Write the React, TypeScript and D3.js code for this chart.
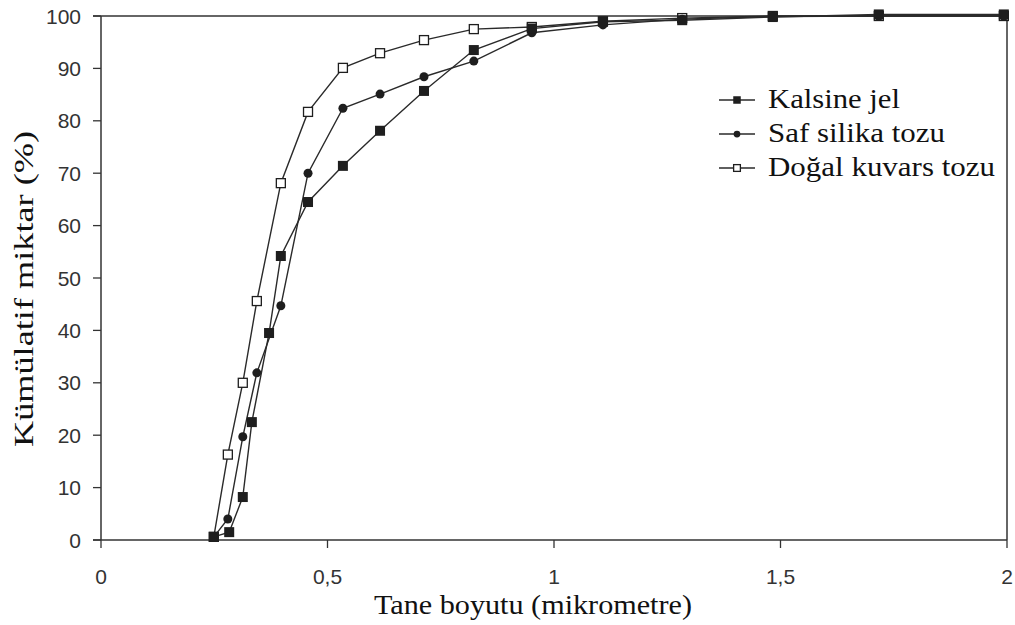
import React from "react";
import * as d3 from "d3";

// particle size (micrometre) and cumulative amount (%)
const kalsineX = [0.249, 0.283, 0.313, 0.333, 0.371, 0.397, 0.457, 0.534, 0.616, 0.713, 0.823, 0.951, 1.108, 1.283, 1.483, 1.717, 1.993];
const kalsineY = [0.6, 1.5, 8.2, 22.5, 39.5, 54.2, 64.5, 71.4, 78.1, 85.7, 93.5, 97.6, 98.9, 99.2, 99.8, 100.3, 100.3];

const safX = [0.249, 0.28, 0.313, 0.344, 0.397, 0.457, 0.534, 0.616, 0.713, 0.823, 0.951, 1.108, 1.283, 1.483, 1.717, 1.993];
const safY = [0.6, 4.0, 19.7, 31.9, 44.7, 70.0, 82.4, 85.1, 88.4, 91.4, 96.8, 98.3, 99.4, 99.9, 100, 100];

const dogalX = [0.249, 0.28, 0.313, 0.344, 0.397, 0.457, 0.534, 0.616, 0.713, 0.823, 0.951, 1.108, 1.283, 1.483, 1.717, 1.993];
const dogalY = [0.6, 16.3, 30.0, 45.6, 68.1, 81.7, 90.1, 92.9, 95.4, 97.5, 97.9, 99.0, 99.6, 100, 100, 100];

const seriesNames = ["Kalsine jel", "Saf silika tozu", "Doğal kuvars tozu"];
const xTicks = [0, 0.5, 1, 1.5, 2];
const yTicks = [0, 10, 20, 30, 40, 50, 60, 70, 80, 90, 100];

const W = 1015;
const H = 625;
const margin = { left: 102, right: 8, top: 16, bottom: 85 };

const x = d3.scaleLinear().domain([0, 2]).range([margin.left - 1, W - margin.right]);
const y = d3.scaleLinear().domain([0, 100]).range([H - margin.bottom, margin.top]);

const line = d3
  .line<[number, number]>()
  .x((d) => x(d[0]))
  .y((d) => y(d[1]));

const zip = (xs: number[], ys: number[]): [number, number][] => xs.map((v, i) => [v, ys[i]]);

const series = [
  { name: seriesNames[0], pts: zip(kalsineX, kalsineY), marker: "fsquare", len: 132 },
  { name: seriesNames[1], pts: zip(safX, safY), marker: "circle", len: 177 },
  { name: seriesNames[2], pts: zip(dogalX, dogalY), marker: "osquare", len: 227 },
];

const ink = "#1e1e1e";

const Marker = ({ type, cx, cy, s = 1 }: { type: string; cx: number; cy: number; s?: number }) => {
  if (type === "fsquare") {
    const h = 5 * s;
    return <rect x={cx - h} y={cy - h} width={2 * h} height={2 * h} fill={ink} />;
  }
  if (type === "circle") {
    return <circle cx={cx} cy={cy} r={4.5 * s} fill={ink} />;
  }
  const h = 4.5 * s;
  return <rect x={cx - h} y={cy - h} width={2 * h} height={2 * h} fill="#fff" stroke={ink} strokeWidth={1.3} />;
};

const tickFont = "'Liberation Sans', Arial, sans-serif";
const serif = "'Liberation Serif', 'Times New Roman', serif";

export default function App() {
  const x0 = x(0);
  const x1 = x(2);
  const y0 = y(0);
  const y1 = y(100);
  // draw in reverse so Kalsine markers end on top
  const drawOrder = [...series].reverse();
  return (
    <div style={{ position: "fixed", left: 0, top: 0 }}>
      <svg width={W} height={H} style={{ display: "block", background: "#fff" }}>
        {/* frame */}
        <line x1={x0 - 8} x2={x1} y1={y1} y2={y1} stroke="#333" strokeWidth={1.5} />
        <line x1={x1} x2={x1} y1={y1} y2={y0} stroke="#333" strokeWidth={1.5} />
        <line x1={x0} x2={x0} y1={y1} y2={y0} stroke="#333" strokeWidth={1.5} />
        <line x1={x0 - 8} x2={x1} y1={y0} y2={y0} stroke="#333" strokeWidth={1.5} />

        {yTicks.map((t) => (
          <g key={"y" + t}>
            <line x1={x0 - 8} x2={x0} y1={y(t)} y2={y(t)} stroke="#333" strokeWidth={1.3} />
            <text x={x0 - 20} y={y(t)} dy="0.36em" textAnchor="end" fontFamily={tickFont} fontSize={21} fill="#333">
              {t}
            </text>
          </g>
        ))}
        {xTicks.map((t) => (
          <g key={"x" + t}>
            <line x1={x(t)} x2={x(t)} y1={y0} y2={y0 + 8} stroke="#333" strokeWidth={1.3} />
            <text x={x(t)} y={y0 + 44} textAnchor="middle" fontFamily={tickFont} fontSize={21} fill="#333">
              {String(t).replace(".", ",")}
            </text>
          </g>
        ))}

        <text
          x={533}
          y={614}
          textAnchor="middle"
          fontFamily={serif}
          fontSize={27}
          fill="#111"
          textLength={318}
          lengthAdjust="spacingAndGlyphs"
        >
          Tane boyutu (mikrometre)
        </text>
        <text
          transform={`translate(33,289) rotate(-90)`}
          textAnchor="middle"
          fontFamily={serif}
          fontSize={27}
          fill="#111"
          textLength={316}
          lengthAdjust="spacingAndGlyphs"
        >
          Kümülatif miktar (%)
        </text>

        {drawOrder.map((s) => (
          <g key={s.name}>
            <path d={line(s.pts) || ""} fill="none" stroke="#2a2a2a" strokeWidth={1.4} />
            {s.pts.map((p, i) => (
              <Marker key={i} type={s.marker} cx={x(p[0])} cy={y(p[1])} />
            ))}
          </g>
        ))}

        {/* legend */}
        {series.map((s, i) => {
          const ly = 100 + i * 34;
          return (
            <g key={"lg" + s.name}>
              <line x1={719} x2={755} y1={ly} y2={ly} stroke="#2a2a2a" strokeWidth={1.5} />
              <Marker type={s.marker} cx={737} cy={ly} s={0.75} />
              <text
                x={768}
                y={ly + 8}
                fontFamily={serif}
                fontSize={27}
                fill="#111"
                textLength={s.len}
                lengthAdjust="spacingAndGlyphs"
              >
                {s.name}
              </text>
            </g>
          );
        })}
      </svg>
    </div>
  );
}
